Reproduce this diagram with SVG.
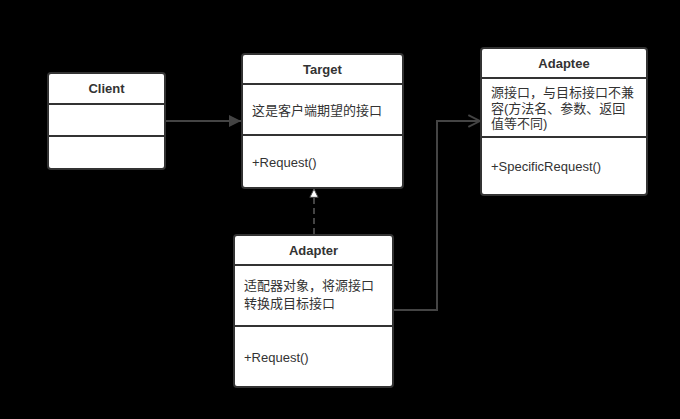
<svg xmlns="http://www.w3.org/2000/svg" width="680" height="419" viewBox="0 0 680 419">
<style>
.box{fill:#fff;stroke:#333;stroke-width:2}
.div{stroke:#333;stroke-width:2}
.t{font-family:"Liberation Sans","Noto Sans CJK SC",sans-serif;font-size:13px;fill:#333}
.b{font-weight:bold;text-anchor:middle}
.c{fill:none;stroke:#444;stroke-width:2}
</style>
<defs>
<marker id="fill" viewBox="0 0 10 10" refX="10" refY="5" markerWidth="16" markerHeight="12" markerUnits="userSpaceOnUse" orient="auto"><path d="M0,0 L10,5 L0,10 Z" fill="#444"/></marker>
<marker id="open" viewBox="0 0 12 12" refX="11" refY="6" markerWidth="14" markerHeight="16" markerUnits="userSpaceOnUse" orient="auto"><path d="M1,1 L11,6 L1,11" fill="none" stroke="#444" stroke-width="1.6"/></marker>
<marker id="hollow" viewBox="0 0 12 12" refX="11" refY="6" markerWidth="12" markerHeight="10" markerUnits="userSpaceOnUse" orient="auto"><path d="M1,1 L11,6 L1,11 Z" fill="#fff" stroke="#444" stroke-width="1.2"/></marker>
</defs>
<rect width="680" height="419" fill="#000"/>
<g id="connectors">
<line class="c" x1="166" y1="121" x2="241" y2="121" marker-end="url(#fill)"/>
<line class="c" x1="314" y1="234" x2="314" y2="189" stroke-dasharray="6,4" marker-end="url(#hollow)"/>
<polyline class="c" points="394,310 437,310 437,121 480,121" marker-end="url(#open)"/>
</g>
<g id="client">
<rect class="box" x="48" y="73" width="117" height="96" rx="3"/>
<line class="div" x1="48" y1="104" x2="165" y2="104"/>
<line class="div" x1="48" y1="136" x2="165" y2="136"/>
<text class="t b" x="106.5" y="93">Client</text>
</g>
<g id="target">
<rect class="box" x="242" y="54" width="161" height="134" rx="3"/>
<line class="div" x1="242" y1="84" x2="403" y2="84"/>
<line class="div" x1="242" y1="135" x2="403" y2="135"/>
<text class="t b" x="322.5" y="74">Target</text>
<text class="t" x="252" y="115">这是客户端期望的接口</text>
<text class="t" x="252" y="167">+Request()</text>
</g>
<g id="adaptee">
<rect class="box" x="481" y="48" width="166" height="147" rx="3"/>
<line class="div" x1="481" y1="78" x2="647" y2="78"/>
<line class="div" x1="481" y1="137" x2="647" y2="137"/>
<text class="t b" x="564" y="68">Adaptee</text>
<text class="t" x="491" y="97">源接口，与目标接口不兼</text>
<text class="t" x="491" y="113">容(方法名、参数、返回</text>
<text class="t" x="491" y="128">值等不同)</text>
<text class="t" x="491" y="171">+SpecificRequest()</text>
</g>
<g id="adapter">
<rect class="box" x="234" y="235" width="159" height="152" rx="3"/>
<line class="div" x1="234" y1="265" x2="393" y2="265"/>
<line class="div" x1="234" y1="326" x2="393" y2="326"/>
<text class="t b" x="313.5" y="255">Adapter</text>
<text class="t" x="244" y="290">适配器对象，将源接口</text>
<text class="t" x="244" y="308">转换成目标接口</text>
<text class="t" x="244" y="362">+Request()</text>
</g>
</svg>
